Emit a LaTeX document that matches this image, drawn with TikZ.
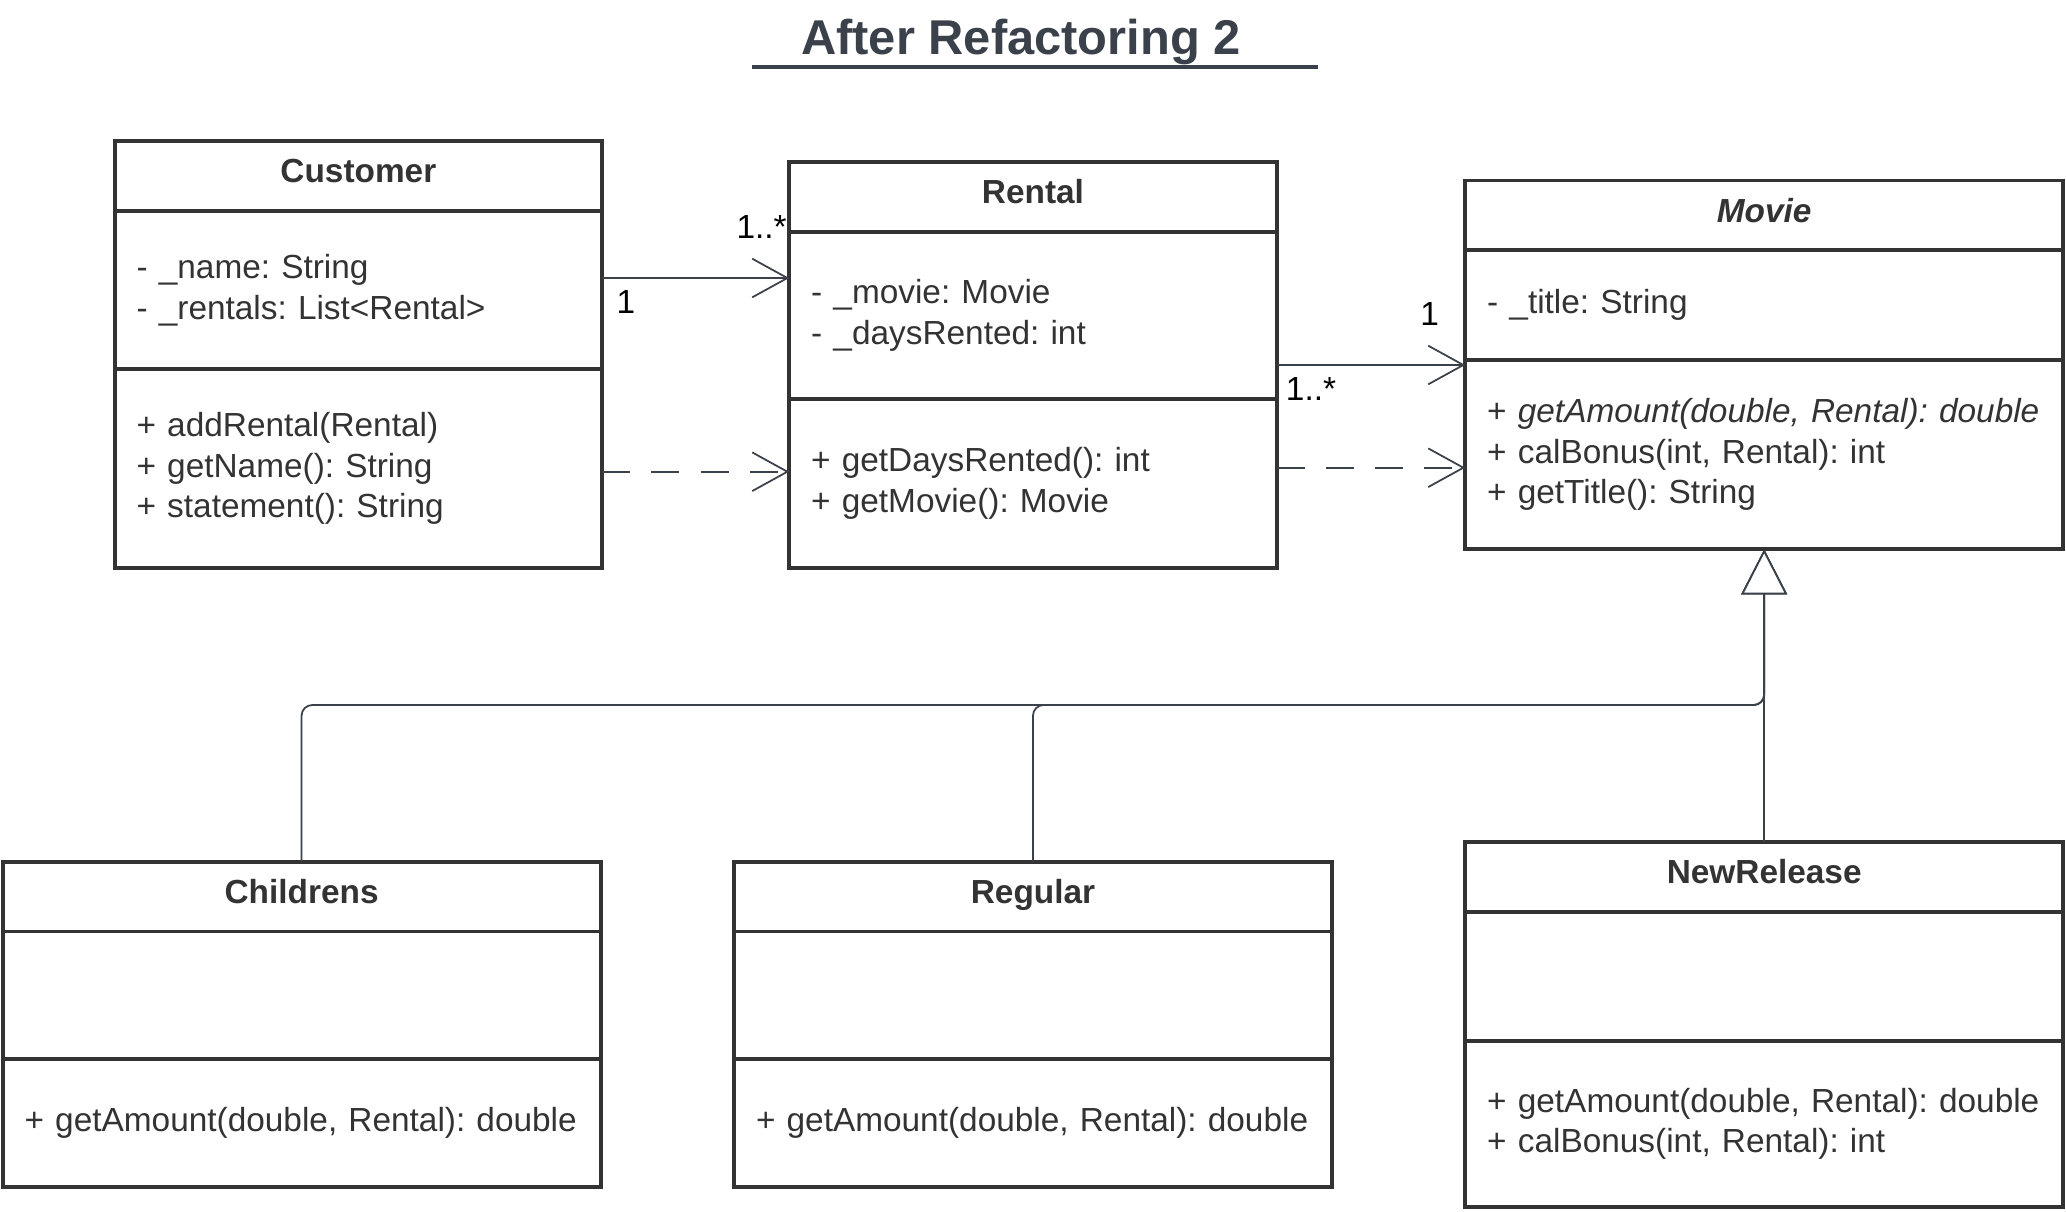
\documentclass[tikz,border=0pt]{standalone}
\usepackage{fontspec}
\setmainfont{Liberation Sans}
\usetikzlibrary{positioning,arrows.meta}

\definecolor{boxline}{HTML}{333333}
\definecolor{wireline}{HTML}{3A414A}
\definecolor{titlegray}{HTML}{3A414A}
\newcommand{\umlsize}{\fontsize{9.5}{11.6}\selectfont\frenchspacing\hyphenpenalty=10000\exhyphenpenalty=10000}

\tikzset{
  umlname/.style={draw=boxline, line width=1.1pt, outer sep=0pt, inner xsep=0.22cm, inner ysep=0pt,
    align=center, font=\umlsize\bfseries, text=boxline, text height=0.72em, text depth=0.32em},
  umlpart/.style={draw=boxline, line width=1.1pt, outer sep=0pt, inner xsep=0.22cm, inner ysep=0pt,
    align=left, font=\umlsize, text=boxline},
  narrow/.style={text width=4.435cm},
  wide/.style={text width=5.54cm},
  assoc/.style={draw=wireline, line width=0.5pt, -{Straight Barb[length=10pt,width=11pt]}},
  dep/.style={assoc, dash pattern=on 8pt off 6pt},
  gen/.style={draw=wireline, line width=0.5pt, rounded corners=3pt,
    -{Triangle[open,length=12.8pt,width=13pt,fill=white]}},
  mult/.style={font=\umlsize, text=black, inner sep=0pt},
}

\begin{document}
\begin{tikzpicture}
\useasboundingbox (0,0) rectangle (20.66,-12.11);

% title
\node[text=titlegray, font=\fontsize{13.9}{16}\selectfont\bfseries] (title) at (10.21,-0.42) {After Refactoring 2};
\draw[titlegray, line width=1pt] (7.523,-0.672) -- (13.176,-0.672);

% Customer
\node[umlname, narrow, minimum height=0.698cm, anchor=north west] (cust) at (1.146,-1.41) {Customer};
\node[umlpart, narrow, minimum height=1.581cm, below=0pt of cust] (cust-attr)
  {- \_name: String\\- \_rentals: List\textless Rental\textgreater};
\node[umlpart, narrow, minimum height=1.99cm, below=0pt of cust-attr] (cust-meth)
  {+ addRental(Rental)\\+ getName(): String\\+ statement(): String};

% Rental
\node[umlname, narrow, minimum height=0.699cm, anchor=north west] (rent) at (7.892,-1.62) {Rental};
\node[umlpart, narrow, minimum height=1.673cm, below=0pt of rent] (rent-attr)
  {- \_movie: Movie\\- \_daysRented: int};
\node[umlpart, narrow, minimum height=1.687cm, below=0pt of rent-attr] (rent-meth)
  {+ getDaysRented(): int\\+ getMovie(): Movie};

% Movie
\node[umlname, wide, minimum height=0.698cm, anchor=north west] (movie) at (14.652,-1.805) {\textit{Movie}};
\node[umlpart, wide, minimum height=1.094cm, below=0pt of movie] (movie-attr)
  {- \_title: String};
\node[umlpart, wide, minimum height=1.897cm, below=0pt of movie-attr] (movie-meth)
  {+ \textit{getAmount(double, Rental): double}\\+ calBonus(int, Rental): int\\+ getTitle(): String};

% Childrens
\node[umlname, wide, minimum height=0.698cm, anchor=north west] (chil) at (0.026,-8.617) {Childrens};
\node[umlpart, wide, minimum height=1.278cm, below=0pt of chil] (chil-attr) {};
\node[umlpart, wide, minimum height=1.279cm, below=0pt of chil-attr] (chil-meth)
  {+ getAmount(double, Rental): double};

% Regular
\node[umlname, wide, minimum height=0.698cm, anchor=north west] (regu) at (7.34,-8.617) {Regular};
\node[umlpart, wide, minimum height=1.278cm, below=0pt of regu] (regu-attr) {};
\node[umlpart, wide, minimum height=1.279cm, below=0pt of regu-attr] (regu-meth)
  {+ getAmount(double, Rental): double};

% NewRelease
\node[umlname, wide, minimum height=0.699cm, anchor=north west] (newr) at (14.652,-8.419) {NewRelease};
\node[umlpart, wide, minimum height=1.291cm, below=0pt of newr] (newr-attr) {};
\node[umlpart, wide, minimum height=1.66cm, below=0pt of newr-attr] (newr-meth)
  {+ getAmount(double, Rental): double\\+ calBonus(int, Rental): int};

% associations and dependencies
\draw[assoc] (cust-attr.east |- 0,-2.78) -- (rent-attr.west |- 0,-2.78);
\node[mult] (m1) at (6.26,-3.017) {1};
\node[mult] (m2) at (7.616,-2.266) {1..*};
\draw[dep] (cust-meth.east |- 0,-4.717) -- (rent-meth.west |- 0,-4.717);

\draw[assoc] (rent-attr.east |- 0,-3.65) -- (movie-meth.west |- 0,-3.65);
\node[mult] (m3) at (14.296,-3.136) {1};
\node[mult] (m4) at (13.11,-3.887) {1..*};
\draw[dep] (rent-meth.east |- 0,-4.677) -- (movie-meth.west |- 0,-4.677);

% generalization
\coordinate (bus) at (movie-meth.south |- 0,-7.05);
\draw[gen] (chil.north) |- (bus) -- (movie-meth.south);
\draw[gen] (regu.north) |- (bus) -- (movie-meth.south);
\draw[gen] (newr.north) -- (movie-meth.south);
\end{tikzpicture}
\end{document}
